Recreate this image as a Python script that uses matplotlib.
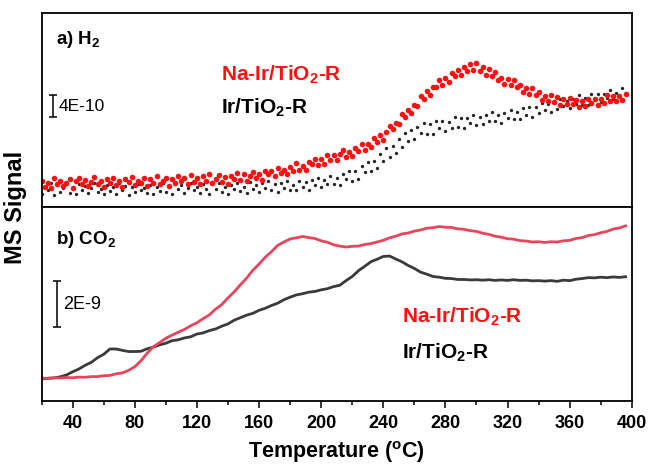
#!/usr/bin/env python
'''
TPD-MS traces of H2 and CO2 for Na-Ir/TiO2-R and Ir/TiO2-R (two stacked
panels sharing the temperature axis).
'''

import numpy as np
import matplotlib.pyplot as plt
from matplotlib.ticker import MultipleLocator

# ---- panel a) H2, sampled every 2 C from 20 to 396, units of 1E-10 ----
t_h2 = np.arange(20, 397, 2)
h2_na = [4.8, 3.7, 4.4, 3.5, 5.2, 4.1, 4.7, 3.8, 4.4, 5.1,
         3.5, 4.7, 5.2, 4.1, 4.9, 3.8, 4.6, 5.4, 4.1, 4.8,
         3.7, 5.1, 4.4, 5.3, 4.0, 4.7, 3.6, 5.0, 4.5, 5.4,
         3.9, 4.8, 4.3, 5.3, 3.8, 5.0, 4.4, 5.6, 4.2, 4.8,
         5.3, 3.8, 5.0, 4.4, 5.6, 4.7, 5.3, 4.2, 5.8, 4.6,
         5.3, 4.1, 5.6, 4.8, 5.9, 4.4, 5.1, 5.8, 4.6, 5.4,
         4.2, 5.7, 5.0, 6.1, 4.9, 6.0, 4.7, 5.7, 6.4, 5.3,
         6.0, 4.9, 6.5, 5.9, 6.6, 5.6, 7.1, 6.2, 6.8, 5.9,
         7.3, 6.5, 7.9, 6.7, 7.5, 6.7, 8.2, 7.8, 8.7, 7.6,
         8.8, 7.8, 9.5, 8.5, 9.5, 8.5, 9.6, 10.3, 9.1, 9.9,
         9.3, 10.8, 10.2, 11.4, 10.4, 11.5, 10.9, 12.6, 11.9, 13.0,
         12.2, 13.7, 14.7, 14.1, 15.3, 15.0, 16.9, 16.4, 17.7, 17.0,
         18.5, 18.3, 20.1, 19.6, 21.1, 20.3, 21.9, 21.8, 23.1, 22.2,
         23.4, 22.8, 24.4, 23.9, 25.0, 24.0, 25.4, 24.8, 26.0, 25.0,
         26.1, 24.7, 25.4, 24.0, 25.1, 23.9, 24.6, 23.1, 23.5, 22.3,
         23.2, 22.1, 23.1, 21.8, 22.2, 20.9, 21.7, 20.6, 21.6, 20.3,
         20.9, 19.4, 20.2, 19.3, 20.4, 19.1, 20.0, 18.5, 19.6, 18.7,
         19.9, 18.8, 19.5, 18.1, 19.3, 18.3, 19.7, 18.9, 19.7, 18.5,
         19.7, 18.9, 20.3, 19.3, 20.2, 19.2, 20.2, 19.5, 20.6]
h2_ir = [2.4, 3.7, 3.1, 4.3, 2.2, 3.9, 2.8, 3.4, 4.1, 2.6,
         3.6, 2.3, 4.2, 3.0, 3.8, 2.5, 3.5, 4.4, 2.7, 3.3,
         2.3, 4.0, 2.9, 3.6, 2.4, 4.3, 3.1, 3.8, 2.2, 3.7,
         2.7, 4.2, 3.0, 3.4, 2.5, 4.0, 2.4, 3.7, 2.9, 4.4,
         2.7, 3.6, 2.3, 4.2, 3.2, 3.9, 2.5, 3.4, 4.4, 3.0,
         3.7, 2.6, 4.1, 3.3, 2.4, 4.1, 3.2, 4.4, 2.8, 3.7,
         2.4, 4.0, 3.3, 4.3, 2.9, 3.6, 2.6, 4.5, 3.2, 3.9,
         2.8, 4.3, 3.4, 4.7, 3.1, 4.1, 2.7, 4.4, 3.5, 4.7,
         3.1, 4.0, 3.0, 4.7, 3.6, 4.5, 3.1, 4.9, 3.9, 5.3,
         3.6, 4.9, 4.1, 5.6, 4.2, 5.2, 4.0, 6.0, 5.0, 6.5,
         4.8, 6.5, 5.1, 7.4, 6.4, 8.2, 6.6, 8.4, 7.1, 9.7,
         8.4, 10.7, 9.0, 11.0, 9.8, 12.3, 10.9, 13.4, 12.0, 14.0,
         12.4, 14.5, 13.4, 15.2, 13.3, 15.0, 13.3, 15.6, 14.3, 15.6,
         13.9, 15.5, 14.3, 16.3, 14.6, 16.2, 14.3, 16.2, 15.2, 16.7,
         14.9, 16.3, 15.0, 16.8, 15.6, 17.2, 15.6, 16.8, 15.3, 17.1,
         16.2, 17.6, 16.0, 17.3, 16.0, 18.0, 16.7, 18.1, 16.4, 18.2,
         17.0, 18.9, 17.6, 18.8, 17.3, 19.2, 17.9, 19.6, 18.4, 19.3,
         18.0, 19.7, 18.7, 20.3, 18.6, 19.9, 18.6, 20.5, 19.5, 20.5,
         19.1, 20.6, 19.8, 21.3, 19.7, 20.8, 20.0, 21.6, 20.7]

# ---- panel b) CO2, sampled every 4 C from 20 to 396, units of 1E-9 ----
t_co2 = np.arange(20, 397, 4)
co2_na = [1.00, 0.98, 1.01, 1.00, 1.02, 1.01, 1.04, 1.03, 1.06, 1.06,
          1.10, 1.11, 1.18, 1.22, 1.33, 1.49, 1.75, 2.08, 2.36, 2.54,
          2.73, 2.86, 2.99, 3.11, 3.27, 3.40, 3.58, 3.74, 3.99, 4.19,
          4.48, 4.74, 5.05, 5.34, 5.68, 5.95, 6.25, 6.49, 6.76, 6.91,
          7.04, 7.09, 7.15, 7.10, 7.06, 6.96, 6.90, 6.79, 6.73, 6.69,
          6.72, 6.73, 6.80, 6.84, 6.91, 6.98, 7.09, 7.16, 7.26, 7.30,
          7.38, 7.43, 7.51, 7.53, 7.58, 7.55, 7.54, 7.48, 7.46, 7.40,
          7.37, 7.29, 7.24, 7.16, 7.12, 7.05, 7.03, 6.97, 6.95, 6.91,
          6.92, 6.89, 6.92, 6.91, 6.96, 6.98, 7.06, 7.10, 7.19, 7.23,
          7.31, 7.37, 7.47, 7.52, 7.61]
co2_ir = [0.96, 0.99, 1.00, 1.05, 1.13, 1.27, 1.39, 1.55, 1.68, 1.88,
          2.03, 2.26, 2.26, 2.20, 2.15, 2.15, 2.16, 2.27, 2.34, 2.44,
          2.51, 2.62, 2.66, 2.74, 2.79, 2.91, 2.96, 3.06, 3.13, 3.25,
          3.35, 3.51, 3.62, 3.73, 3.81, 3.94, 4.03, 4.15, 4.25, 4.40,
          4.51, 4.61, 4.66, 4.73, 4.76, 4.83, 4.88, 4.97, 5.03, 5.23,
          5.41, 5.66, 5.85, 6.05, 6.16, 6.28, 6.30, 6.17, 6.05, 5.89,
          5.76, 5.60, 5.51, 5.41, 5.38, 5.33, 5.32, 5.28, 5.28, 5.26,
          5.27, 5.25, 5.27, 5.24, 5.26, 5.24, 5.27, 5.24, 5.25, 5.22,
          5.23, 5.21, 5.23, 5.20, 5.25, 5.23, 5.29, 5.32, 5.36, 5.35,
          5.38, 5.36, 5.39, 5.37, 5.40]

labels = [r'Na-Ir/TiO$_\mathbf{2}$-R', r'Ir/TiO$_\mathbf{2}$-R']


def main():
    plt.rcParams['font.family'] = 'Liberation Sans'
    plt.rcParams['mathtext.fontset'] = 'custom'
    plt.rcParams['mathtext.rm'] = 'Liberation Sans'
    plt.rcParams['mathtext.bf'] = 'Liberation Sans:bold'
    plt.rcParams['mathtext.it'] = 'Liberation Sans:italic'

    fig = plt.figure(figsize=(6.5, 4.66), dpi=100)
    ax1 = fig.add_axes([0.064, 0.556, 0.908, 0.4163])
    ax2 = fig.add_axes([0.064, 0.1395, 0.908, 0.4163], sharex=ax1)

    red = '#ff1010'
    # a) H2 -- noisy point clouds
    ax1.plot(t_h2, h2_ir, 'o', color='#252525', ms=2.4, mew=0)
    ax1.plot(t_h2, h2_na, 'o', color=red, ms=4.0, mew=0)
    ax1.set_ylim(0, 35.3)
    ax1.errorbar([27.3], [18.4], yerr=[2.0], color='k', lw=1.1,
                 capsize=3, capthick=1.1)
    ax1.text(0.028, 0.52, '4E-10', transform=ax1.transAxes, fontsize=12.5,
             va='center')
    ax1.text(0.024, 0.865, r'a) H$_\mathbf{2}$', transform=ax1.transAxes,
             fontsize=13.5, fontweight='bold', va='center')
    ax1.text(0.304, 0.68, labels[0], transform=ax1.transAxes, fontsize=15,
             fontweight='bold', color=red, va='center')
    ax1.text(0.304, 0.51, labels[1], transform=ax1.transAxes, fontsize=15,
             fontweight='bold', color='k', va='center')

    # b) CO2 -- smoother traces
    ax2.plot(t_co2, co2_ir, '-', color='#3a3a3a', lw=2.0)
    ax2.plot(t_co2, co2_na, '-', color='#e8455c', lw=2.0)
    ax2.set_ylim(0, 8.43)
    ax2.errorbar([29.6], [4.22], yerr=[1.0], color='k', lw=1.1,
                 capsize=3, capthick=1.1)
    ax2.text(0.036, 0.495, '2E-9', transform=ax2.transAxes, fontsize=13,
             va='center')
    ax2.text(0.024, 0.83, r'b) CO$_\mathbf{2}$', transform=ax2.transAxes,
             fontsize=13.5, fontweight='bold', va='center')
    ax2.text(0.61, 0.433, labels[0], transform=ax2.transAxes, fontsize=15,
             fontweight='bold', color=red, va='center')
    ax2.text(0.61, 0.25, labels[1], transform=ax2.transAxes, fontsize=15,
             fontweight='bold', color='k', va='center')

    ax2.set_xlim(20, 400)
    ax2.xaxis.set_major_locator(MultipleLocator(40))
    ax2.xaxis.set_minor_locator(MultipleLocator(20))
    ax2.tick_params(axis='x', which='major', direction='out', length=5,
                    width=1.1, labelsize=13, pad=5)
    ax2.tick_params(axis='x', which='minor', direction='out', length=3,
                    width=1.1)
    for lab in ax2.get_xticklabels():
        lab.set_fontweight('bold')
    ax1.tick_params(axis='x', which='both', bottom=False, labelbottom=False)
    for ax in (ax1, ax2):
        ax.set_yticks([])
        for sp in ax.spines.values():
            sp.set_linewidth(1.3)

    ax2.set_xlabel(r'Temperature ($^\mathbf{o}$C)', fontsize=15.5,
                   fontweight='bold', labelpad=5)
    fig.text(0.024, 0.555, 'MS Signal', rotation=90, fontsize=17,
             fontweight='bold', ha='center', va='center')

    plt.savefig('out.png', dpi=100)


if __name__ == '__main__':
    main()
